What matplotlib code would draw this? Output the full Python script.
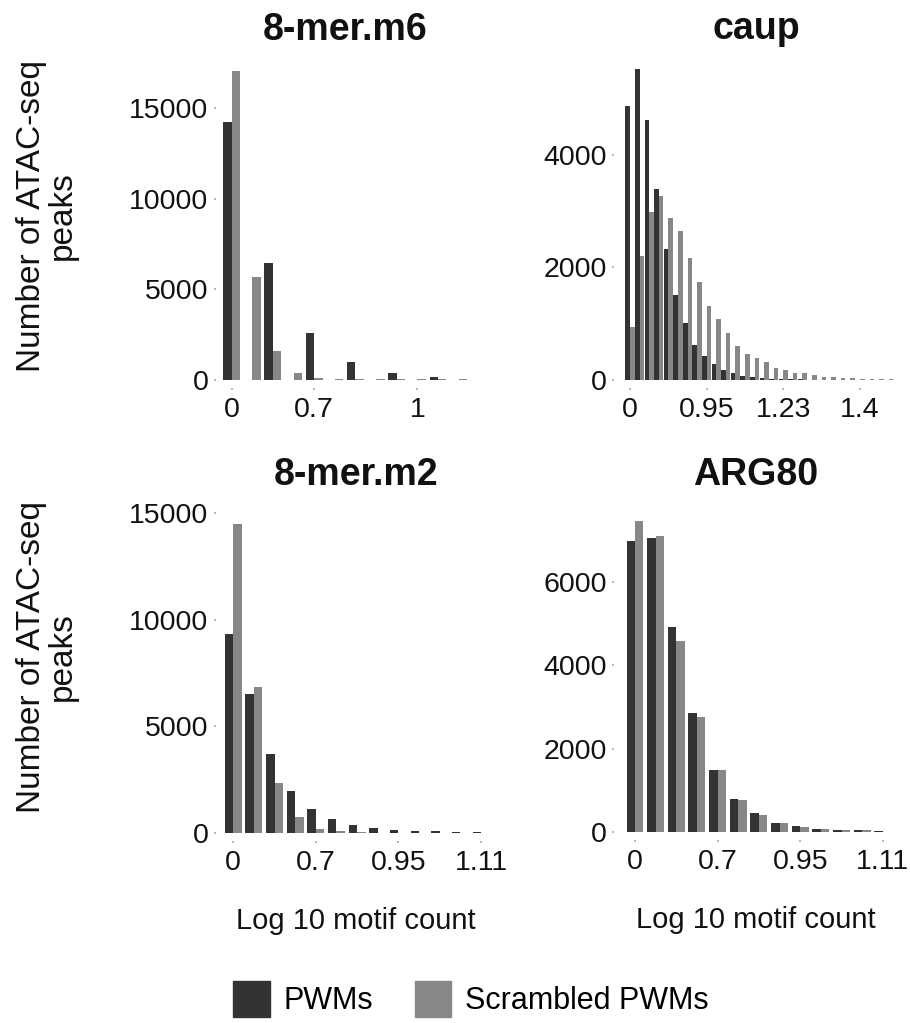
import numpy as np
import matplotlib
matplotlib.use("Agg")
import matplotlib.pyplot as plt
from matplotlib.patches import Patch

plt.rcParams['font.family'] = ['Liberation Sans', 'DejaVu Sans']

# --- data (bin i = motif count i+1) ---
m6_pwm = [14200, 0, 6450, 0, 2580, 0, 1010, 0, 400, 0, 150, 0]
m6_scr = [17060, 5700, 1620, 400, 130, 70, 50, 60, 40, 60, 30, 60]

caup_pwm = [4870, 5520, 4620, 3400, 2320, 1510, 1010, 620, 430, 280, 180, 120, 70, 50,
            35, 25, 20, 15, 10, 8, 6, 5, 4, 3, 2, 2, 1, 1]
caup_scr = [950, 2200, 2980, 3260, 2870, 2650, 2170, 1740, 1320, 1080, 840, 600, 470, 385,
            325, 220, 180, 130, 120, 80, 60, 50, 40, 35, 25, 25, 20, 12]

m2_pwm = [9340, 6520, 3720, 1950, 1140, 670, 390, 235, 155, 110, 90, 70, 30]
m2_scr = [14480, 6840, 2340, 730, 200, 80, 45, 20, 10, 10, 5, 5, 2]

arg_pwm = [6980, 7060, 4920, 2860, 1480, 800, 465, 225, 135, 72, 56, 48, 16]
arg_scr = [7460, 7110, 4580, 2760, 1480, 775, 415, 215, 120, 64, 56, 40, 8]

m6_xt, m6_xl = [0, 4, 9], ["0", "0.7", "1"]
caup_xt, caup_xl = [0, 8, 16, 24], ["0", "0.95", "1.23", "1.4"]
m2_xt, m2_xl = [0, 4, 8, 12], ["0", "0.7", "0.95", "1.11"]
arg_xt, arg_xl = m2_xt, m2_xl

m6_yt = [0, 5000, 10000, 15000]
caup_yt = [0, 2000, 4000]
m2_yt = [0, 5000, 10000, 15000]
arg_yt = [0, 2000, 4000, 6000]

DARK = "#333333"
LIGHT = "#878787"
W, H = 910, 1023

fig = plt.figure(figsize=(W / 100, H / 100), dpi=100)


def box(l, r, t, b):
    return [l / W, 1 - b / H, (r - l) / W, (b - t) / H]


def panel(rect, pwm, scr, title, xt, xl, yt, xlim, ylim, bw, xlabel):
    ax = fig.add_axes(rect)
    x = np.arange(len(pwm))
    ax.bar(x - bw / 2, pwm, width=bw, color=DARK, linewidth=0)
    ax.bar(x + bw / 2, scr, width=bw, color=LIGHT, linewidth=0)
    ax.set_xlim(*xlim)
    ax.set_ylim(*ylim)
    ax.set_xticks(xt)
    ax.set_xticklabels(xl)
    ax.set_yticks(yt)
    ax.set_yticklabels([str(v) for v in yt])
    for s in ax.spines.values():
        s.set_visible(False)
    ax.spines['bottom'].set_position(('outward', 6))
    ax.spines['left'].set_position(('outward', 2))
    ax.tick_params(axis='both', length=1.5, width=1.2, color='#aaaaaa',
                   labelsize=20.5, labelcolor='#111111')
    ax.tick_params(axis='x', pad=5)
    ax.tick_params(axis='y', pad=4)
    ax.set_title(title, fontsize=27, fontweight='bold', pad=20, color='#111111')
    if xlabel:
        ax.set_xlabel("Log 10 motif count", fontsize=21, labelpad=22, color='#111111')
    return ax


panel(box(219, 471, 68, 380), m6_pwm, m6_scr, "8-mer.m6", m6_xt, m6_xl, m6_yt,
      (-0.61, 11.6), (0, 17200), 0.41, False)
panel(box(617, 895, 67, 380), caup_pwm, caup_scr, "caup", caup_xt, caup_xl, caup_yt,
      (-1.36, 27.66), (0, 5560), 0.48, False)
panel(box(219, 493, 513, 833), m2_pwm, m2_scr, "8-mer.m2", m2_xt, m2_xl, m2_yt,
      (-0.69, 12.58), (0, 15000), 0.41, True)
panel(box(617, 895, 513, 832), arg_pwm, arg_scr, "ARG80", arg_xt, arg_xl, arg_yt,
      (-0.87, 12.59), (0, 7660), 0.41, True)

ylab = "Number of ATAC-seq\npeaks"
fig.text(47 / W, 1 - 216 / H, ylab, rotation=90, ha='center', va='center',
         multialignment='center', fontsize=24, color='#111111', linespacing=1.0)
fig.text(47 / W, 1 - 657 / H, ylab, rotation=90, ha='center', va='center',
         multialignment='center', fontsize=24, color='#111111', linespacing=1.0)

handles = [Patch(color=DARK, label="PWMs"), Patch(color=LIGHT, label="Scrambled PWMs")]
fig.legend(handles=handles, loc='center', bbox_to_anchor=(471 / W, 1 - 999 / H),
           ncol=2, frameon=False, fontsize=22, handlelength=1.2, handleheight=1.4,
           handletextpad=0.45, columnspacing=1.35, borderpad=0)

fig.savefig("out.png", dpi=100)
